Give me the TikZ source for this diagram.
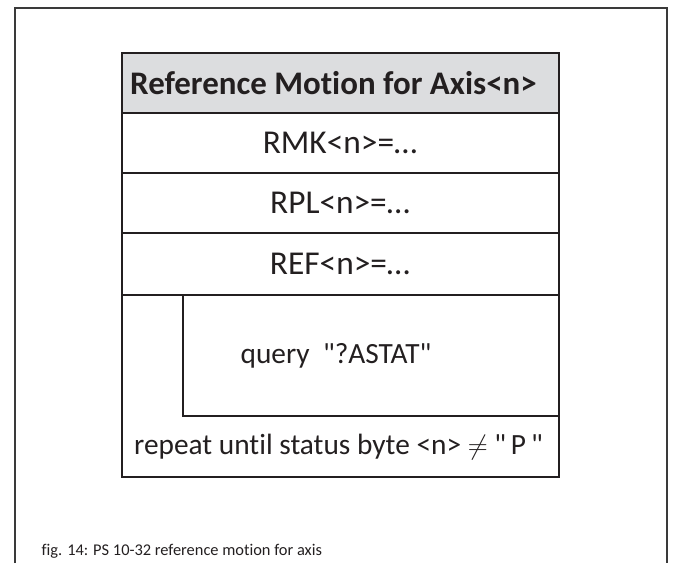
\documentclass[tikz,border=0pt]{standalone}
\usepackage{fontspec}
\setmainfont{Carlito}[Ligatures={TeX,NoCommon}]
\usepackage{amsmath}
\usepackage{amssymb}
\definecolor{boxline}{HTML}{231F20}
\definecolor{headgray}{HTML}{DCDDDF}
\definecolor{framegray}{HTML}{3A3A3A}
\newcommand{\qt}{\textquotedbl}

\begin{document}
\begin{tikzpicture}[x=0.75pt,y=-0.75pt,
		cell/.style={draw=boxline,line width=1.5pt},
		rowtext/.style={font=\fontsize{25}{25}\selectfont,text=boxline},
		looptext/.style={font=\fontsize{22}{23}\selectfont,text=boxline},
		headtext/.style={font=\bfseries\fontsize{24.7}{25}\selectfont,text=boxline},
		captext/.style={font=\fontsize{12.3}{13}\selectfont,text=boxline,anchor=west}]
			\useasboundingbox (0,0) rectangle (673,563);
			%\draw [help lines] (0,0) grid (673,563);
			\draw[framegray,line width=0.8pt] (15,563) -- (15,8) -- (667,8) -- (667,563);
			% rows
			\draw[cell,fill=headgray] (122,53) rectangle (559,113);
			\draw[cell] (122,113) rectangle (559,173);
			\draw[cell] (122,173) rectangle (559,233);
			\draw[cell] (122,233) rectangle (559,295);
			% loop
			\draw[cell] (122,295) -- (122,477) -- (559,477) -- (559,295);
			\draw[cell] (183,295) rectangle (559,416);
			\node[headtext] (head) at (333.5,83) {Reference Motion for Axis<n>};
			\node[rowtext] (rmk) at (340,143) {RMK<n>=\ldots};
			\node[rowtext] (rpl) at (340,203) {RPL<n>=\ldots};
			\node[rowtext] (ref) at (340,264) {REF<n>=\ldots};
			\node[looptext] (query) at (336,356) {query\ \ \qt?ASTAT\qt};
			\node[looptext] (repeat) at (338.5,447) {repeat until status byte <n> $\neq$ \qt\,P\,\qt};
			\node[captext] (cap) at (37,551) {fig. 14: PS 10-32 reference motion for axis};
		\end{tikzpicture}
\end{document}
